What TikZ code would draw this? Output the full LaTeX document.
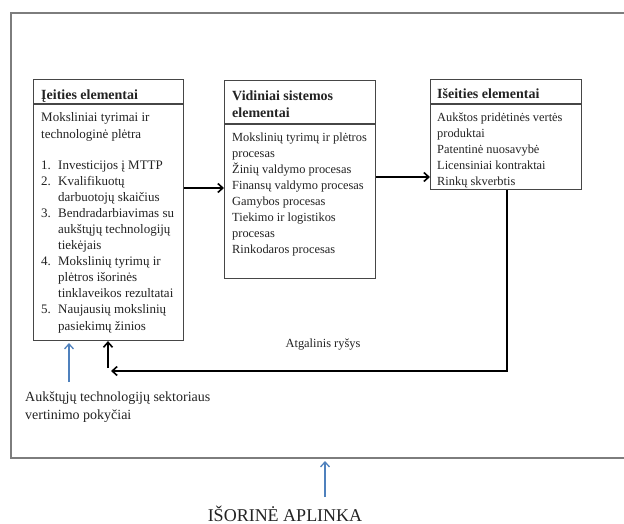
\documentclass[tikz,border=0pt]{standalone}
\usepackage{fontspec}
\setmainfont{Liberation Serif}
\usetikzlibrary{arrows.meta}
\definecolor{framegray}{RGB}{125,125,125}
\definecolor{boxgray}{RGB}{70,70,70}
\definecolor{txt}{RGB}{35,35,35}
\definecolor{arrowblue}{RGB}{79,129,189}
\begin{document}
\begin{tikzpicture}[x=1pt,y=-1pt,
  boxframe/.style={draw=boxgray,line width=1.1pt,inner sep=0pt,anchor=north west},
  hdrline/.style={draw=boxgray,line width=1.1pt},
  hdrtext/.style={anchor=base west,inner sep=0pt,text=txt,font=\fontsize{14}{17}\selectfont\bfseries},
  bodytext/.style={anchor=base west,inner sep=0pt,text=txt},
  blackarrow/.style={draw=black,line width=1.7pt,-{Straight Barb[length=5pt,width=9pt,line width=1.6pt]}},
  bluearrow/.style={draw=arrowblue,line width=1.3pt,-{Straight Barb[length=5pt,width=9pt,line width=1.3pt]}},
  outerframe/.style={draw=framegray,line width=1.4pt}]
\useasboundingbox (0,0) rectangle (624,524);
\fill[white] (0,0) rectangle (624,524);
% outer environment frame (open to the right)
\draw[outerframe] (640,13) -- (11,13) -- (11,458) -- (640,458);
% boxes
\node[boxframe,minimum width=150pt,minimum height=261pt] (b1) at (33,79) {};
\node[boxframe,minimum width=151pt,minimum height=198pt] (b2) at (224,80) {};
\node[boxframe,minimum width=151pt,minimum height=110pt] (b3) at (430,79) {};
\draw[hdrline] (b1.west |- 0,104) -- (b1.east |- 0,104);
\draw[hdrline] (b2.west |- 0,124) -- (b2.east |- 0,124);
\draw[hdrline] (b3.west |- 0,104) -- (b3.east |- 0,104);
% headers
\node[hdrtext] (h1) at (41,100) {Įeities elementai};
\node[hdrtext] (h2) at (232,101) {\begin{tabular}[t]{@{}l@{}}Vidiniai sistemos\\elementai\end{tabular}};
\node[hdrtext] (h3) at (437,99) {Išeities elementai};
% body texts
\node[bodytext,font=\fontsize{13}{16.1}\selectfont] (t1) at (41,122) {%
\begin{tabular}[t]{@{}p{17pt}@{}l@{}}
\multicolumn{2}{@{}l@{}}{Moksliniai tyrimai ir}\\
\multicolumn{2}{@{}l@{}}{technologinė plėtra}\\[14.9pt]
1. & Investicijos į MTTP\\
2. & Kvalifikuotų\\
   & darbuotojų skaičius\\
3. & Bendradarbiavimas su\\
   & aukštųjų technologijų\\
   & tiekėjais\\
4. & Mokslinių tyrimų ir\\
   & plėtros išorinės\\
   & tinklaveikos rezultatai\\
5. & Naujausių mokslinių\\
   & pasiekimų žinios
\end{tabular}};
\node[bodytext,font=\fontsize{12.4}{15.9}\selectfont] (t2) at (232,142) {%
\begin{tabular}[t]{@{}l@{}}
Mokslinių tyrimų ir plėtros\\
procesas\\
Žinių valdymo procesas\\
Finansų valdymo procesas\\
Gamybos procesas\\
Tiekimo ir logistikos\\
procesas\\
Rinkodaros procesas
\end{tabular}};
\node[bodytext,font=\fontsize{12.4}{16}\selectfont] (t3) at (437,122) {%
\begin{tabular}[t]{@{}l@{}}
Aukštos pridėtinės vertės\\
produktai\\
Patentinė nuosavybė\\
Licensiniai kontraktai\\
Rinkų skverbtis
\end{tabular}};
% connectors
\draw[blackarrow] (b1.east |- 0,188) -- (b2.west |- 0,188);
\draw[blackarrow] (b2.east |- 0,177) -- (b3.west |- 0,177);
\coordinate (fbend) at (111,371);
\draw[blackarrow] (b3.south -| 507,0) -- (507,371) -- (fbend);
\coordinate (fbup) at (108,368);
\draw[blackarrow] (fbup) -- (fbup |- b1.south);
% feedback label
\node[bodytext,font=\fontsize{12.4}{15}\selectfont,anchor=base] (fb) at (323,347) {Atgalinis ryšys};
% blue arrow and sector label
\coordinate (bluestart) at (69,382);
\draw[bluearrow] (bluestart) -- (69,343);
\node[bodytext,font=\fontsize{14}{18}\selectfont] (sector) at (25,401) {%
\begin{tabular}[t]{@{}l@{}}Aukštųjų technologijų sektoriaus\\vertinimo pokyčiai\end{tabular}};
% external environment
\node[bodytext,font=\fontsize{18}{20}\selectfont,anchor=base] (env) at (285,521) {IŠORINĖ APLINKA};
\coordinate (envstart) at (325,497);
\draw[bluearrow] (envstart) -- (325,461);
\end{tikzpicture}
\end{document}
